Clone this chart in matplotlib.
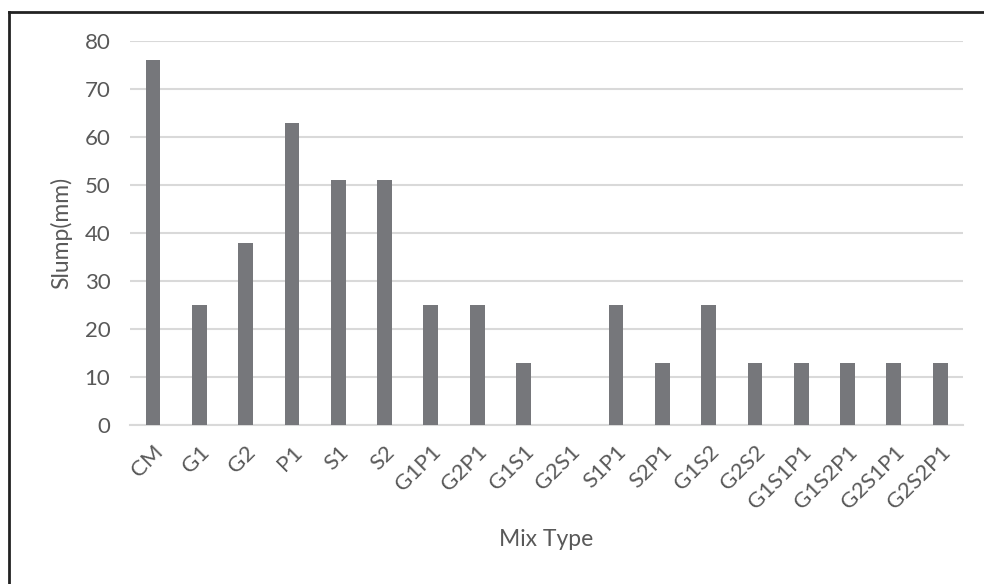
import matplotlib.pyplot as plt
from matplotlib.lines import Line2D

mix_types = ["CM", "G1", "G2", "P1", "S1", "S2", "G1P1", "G2P1", "G1S1", "G2S1",
             "S1P1", "S2P1", "G1S2", "G2S2", "G1S1P1", "G1S2P1", "G2S1P1", "G2S2P1"]
slump_mm = [76, 25, 38, 63, 51, 51, 25, 25, 13, 0, 25, 13, 25, 13, 13, 13, 13, 13]

plt.rcParams['font.family'] = ['Lato', 'DejaVu Sans']
text_col = '#595959'

fig = plt.figure(figsize=(9.84, 5.84), dpi=100)
ax = fig.add_axes([0.132, 0.272, 0.847, 0.658])

x = range(len(mix_types))
ax.bar(x, slump_mm, width=0.32, color='#76777b', zorder=3)

ax.set_ylim(0, 80)
ax.set_xlim(-0.5, len(mix_types) - 0.5)
ax.set_yticks(range(0, 81, 10))
ax.yaxis.grid(True, color='#d9d9d9', linewidth=1.5, zorder=0)
for s in ['top', 'right', 'left']:
    ax.spines[s].set_visible(False)
ax.spines['bottom'].set_color('#d9d9d9')
ax.spines['bottom'].set_linewidth(1.5)

ax.set_xticks(list(x))
ax.set_xticklabels(mix_types, rotation=45, ha='right', rotation_mode='anchor')
ax.tick_params(axis='both', length=0, labelsize=16, labelcolor=text_col)
ax.tick_params(axis='x', pad=12)
ax.tick_params(axis='y', pad=14)

ax.set_xlabel("Mix Type", fontsize=16.5, color=text_col, labelpad=12)
ax.set_ylabel("Slump(mm)", fontsize=16.5, color=text_col, labelpad=9)

# frame drawn only on the top and left edges
fig.add_artist(Line2D([0.009, 0.009], [0, 0.98], transform=fig.transFigure,
                      color='#222222', linewidth=2))
fig.add_artist(Line2D([0.009, 1], [0.98, 0.98], transform=fig.transFigure,
                      color='#222222', linewidth=2))

fig.savefig("out.png", dpi=100)
